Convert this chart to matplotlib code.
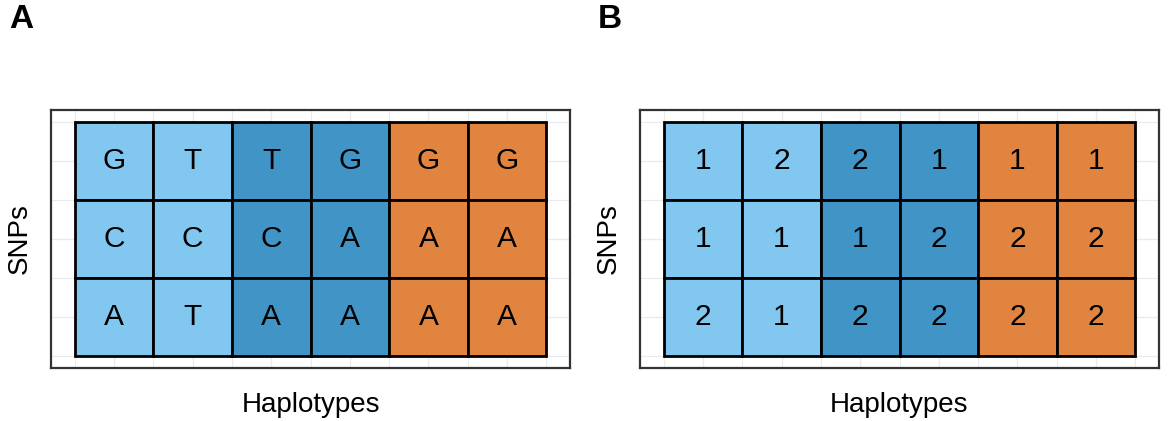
import matplotlib.pyplot as plt
import numpy as np

plt.rcParams['font.family'] = ['Liberation Sans', 'DejaVu Sans']

# haplotype matrices, rows from top SNP to bottom SNP
bases = [
    ['G', 'T', 'T', 'G', 'G', 'G'],
    ['C', 'C', 'C', 'A', 'A', 'A'],
    ['A', 'T', 'A', 'A', 'A', 'A'],
]
codes = [
    ['1', '2', '2', '1', '1', '1'],
    ['1', '1', '1', '2', '2', '2'],
    ['2', '1', '2', '2', '2', '2'],
]
# group of each haplotype column
groups = [0, 0, 1, 1, 2, 2]
group_colors = ['#82C7EF', '#4194C6', '#E0843F']

panel_labels = ['A', 'B']
xlabel = 'Haplotypes'
ylabel = 'SNPs'

fig = plt.figure(figsize=(11.68, 4.21), dpi=100)
W, H = 1168, 421
ax_boxes = [(51, 110, 519, 258), (640, 110, 519, 258)]


def draw_panel(ax, matrix):
    n_rows = len(matrix)
    n_cols = len(matrix[0])
    # light background grid like theme_bw
    for v in np.arange(0.5, n_cols + 1, 0.5):
        ax.axvline(v, color='#EBEBEB', lw=1.0 if v % 1 == 0 else 0.8, zorder=0)
    for v in np.arange(0.5, n_rows + 1, 0.5):
        ax.axhline(v, color='#EBEBEB', lw=1.0 if v % 1 == 0 else 0.8, zorder=0)
    for r, row in enumerate(matrix):
        y = n_rows - r
        for c, val in enumerate(row):
            x = c + 1
            ax.add_patch(plt.Rectangle((x - 0.5, y - 0.5), 1, 1,
                                       facecolor=group_colors[groups[c]],
                                       edgecolor='black', lw=2.0, zorder=2))
            ax.text(x, y, val, ha='center', va='center', fontsize=21.5, zorder=3)
    xr = n_cols * 0.05
    yr = n_rows * 0.05
    ax.set_xlim(0.5 - xr, n_cols + 0.5 + xr)
    ax.set_ylim(0.5 - yr, n_rows + 0.5 + yr)
    ax.set_xticks([])
    ax.set_yticks([])
    for s in ax.spines.values():
        s.set_color('#333333')
        s.set_linewidth(1.6)


for (x0, y0, w, h), mat, lab in zip(ax_boxes, [bases, codes], panel_labels):
    ax = fig.add_axes([x0 / W, 1 - (y0 + h) / H, w / W, h / H])
    draw_panel(ax, mat)
    fig.text((x0 - 42) / W, 1 - 19 / H, lab, fontsize=24, fontweight='bold',
             ha='left', va='center')
    fig.text((x0 + w / 2) / W, 1 - 412 / H, xlabel, fontsize=20,
             ha='center', va='baseline')
    fig.text((x0 - 31) / W, 1 - (y0 + h / 2) / H, ylabel, fontsize=20,
             rotation=90, ha='center', va='center')

fig.savefig('out.png', dpi=100)
